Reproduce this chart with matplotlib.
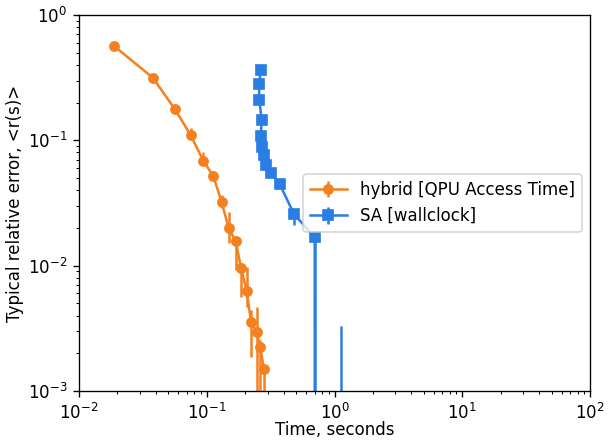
import numpy as np
import matplotlib
matplotlib.use("Agg")
import matplotlib.pyplot as plt

# === hybrid solver (QPU access time) ===
hyb_time = [0.0188, 0.0378, 0.0564, 0.0748, 0.094, 0.1125, 0.131, 0.1486,
            0.1686, 0.1855, 0.2055, 0.222, 0.246, 0.261, 0.281]
hyb_err = [0.566, 0.316, 0.177, 0.110, 0.0687, 0.0519, 0.032, 0.0198,
           0.0157, 0.0096, 0.00627, 0.00357, 0.00297, 0.00225, 0.0015]
hyb_lo = [0.566, 0.316, 0.177, 0.106, 0.066, 0.0519, 0.0286, 0.0151,
          0.0092, 0.00565, 0.00468, 0.00188, 1e-6, 1e-6, 1e-6]
hyb_hi = [0.566, 0.316, 0.177, 0.125, 0.081, 0.0519, 0.0366, 0.0269,
          0.0165, 0.0098, 0.0098, 0.00442, 0.00465, 0.00255, 0.0016]

# === simulated annealing (wallclock) ===
sa_time = [0.265, 0.2565, 0.258, 0.269, 0.265, 0.272, 0.279, 0.289,
           0.316, 0.372, 0.482, 0.70, 1.125]
sa_err = [0.364, 0.280, 0.211, 0.145, 0.109, 0.0889, 0.0763, 0.0635,
          0.0552, 0.0448, 0.0258, 0.0168, 0.0]
sa_lo = [0.364, 0.280, 0.211, 0.145, 0.109, 0.0889, 0.0763, 0.0635,
         0.0552, 0.0448, 0.0211, 1e-6, 0.0]
sa_hi = [0.364, 0.280, 0.211, 0.145, 0.109, 0.0889, 0.0763, 0.0635,
         0.0552, 0.0448, 0.0258, 0.0168, 0.0033]

ORANGE = '#f5801f'
BLUE = '#2a7de1'
DPI = 120


def asym(vals, lo, hi):
    vals, lo, hi = np.array(vals), np.array(lo), np.array(hi)
    return np.vstack([vals - lo, hi - vals])


fig = plt.figure(figsize=(611 / DPI, 440 / DPI), dpi=DPI)
ax = fig.add_axes([79 / 611, 1 - 391 / 440, 511 / 611, 376 / 440])

ax.errorbar(hyb_time, hyb_err, yerr=asym(hyb_err, hyb_lo, hyb_hi),
            color=ORANGE, marker='o', markersize=5.5, linewidth=1.5,
            label='hybrid [QPU Access Time]')
ax.errorbar(sa_time, sa_err, yerr=asym(sa_err, sa_lo, sa_hi),
            color=BLUE, marker='s', markersize=5.5, linewidth=1.5,
            label='SA [wallclock]')

ax.set_xscale('log')
ax.set_yscale('log')
ax.set_xlim(1e-2, 1e2)
ax.set_ylim(1e-3, 1e0)
ax.set_xlabel('Time, seconds', labelpad=-1)
ax.set_ylabel('Typical relative error, <r(s)>', labelpad=2)
ax.legend(loc='center right', handlelength=2.2)

fig.savefig('out.png', dpi=DPI)
